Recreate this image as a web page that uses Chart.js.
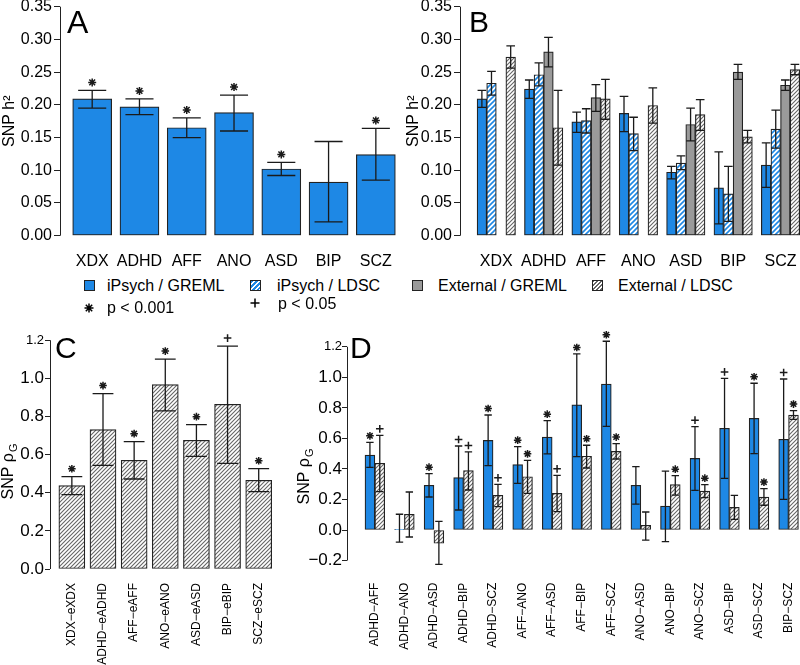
<!DOCTYPE html>
<html><head><meta charset="utf-8">
<script src="https://cdn.jsdelivr.net/npm/chart.js@4.4.1/dist/chart.umd.min.js"></script>
<style>
html,body{margin:0;padding:0;background:#fff;overflow:hidden;width:800px;height:665px;}
body{position:relative;font-family:"Liberation Sans",Arial,Helvetica,sans-serif;color:#000;}
canvas{position:absolute;}
.plbl{position:absolute;font-size:30px;line-height:1;}
.lg{position:absolute;font-size:16px;line-height:1;white-space:nowrap;}
.sw{position:absolute;width:11px;height:11px;border:1px solid #222;box-sizing:border-box;}
.mk{position:absolute;}
</style></head><body>
<canvas id="cA" width="400" height="275" style="left:0;top:0"></canvas>
<canvas id="cB" width="400" height="275" style="left:400px;top:0"></canvas>
<canvas id="cC" width="290" height="335" style="left:0;top:330px"></canvas>
<canvas id="cD" width="510" height="335" style="left:290px;top:330px"></canvas>

<div class="plbl" style="left:67px;top:6px;font-size:32px">A</div>
<div class="plbl" style="left:469px;top:7px">B</div>
<div class="plbl" style="left:55px;top:333px">C</div>
<div class="plbl" style="left:350px;top:333px">D</div>

<div class="sw" style="left:84px;top:280px;background:#1e88e5"></div>
<div class="lg" style="left:107px;top:278px">iPsych / GREML</div>
<div class="sw" style="left:250px;top:280px;background:repeating-linear-gradient(135deg,#1e88e5 0 1.5px,#fff 1.5px 3.5px)"></div>
<div class="lg" style="left:277px;top:278px">iPsych / LDSC</div>
<div class="sw" style="left:412px;top:280px;background:#9a9a9a"></div>
<div class="lg" style="left:438px;top:278px">External / GREML</div>
<div class="sw" style="left:592px;top:280px;background:repeating-linear-gradient(135deg,#666 0 1px,#fff 1px 2.8px)"></div>
<div class="lg" style="left:618px;top:278px">External / LDSC</div>

<svg class="mk" style="left:83px;top:302px" width="12" height="12" viewBox="0 0 12 12"><path d="M6 1.5V10.5M1.5 6H10.5M2.8 2.8L9.2 9.2M9.2 2.8L2.8 9.2" stroke="#000" stroke-width="1.5" fill="none"/></svg>
<div class="lg" style="left:107px;top:300px">p &lt; 0.001</div>
<svg class="mk" style="left:249px;top:297px" width="12" height="12" viewBox="0 0 12 12"><path d="M6 1.5V10.5M1.5 6H10.5" stroke="#000" stroke-width="1.5" fill="none"/></svg>
<div class="lg" style="left:278px;top:296px">p &lt; 0.05</div>

<script>
// ---------------- DATA ----------------
const catsA = ['XDX','ADHD','AFF','ANO','ASD','BIP','SCZ'];
const h2A   = [0.209,0.197,0.165,0.188,0.102,0.082,0.124];
const loA   = [0.195,0.185,0.150,0.160,0.092,0.021,0.085];
const hiA   = [0.222,0.209,0.180,0.215,0.112,0.144,0.164];
const sigA  = ['*','*','*','*','*','','*'];
const yTicksAB = [0,0.05,0.10,0.15,0.20,0.25,0.30,0.35];

const catsB = ['XDX','ADHD','AFF','ANO','ASD','BIP','SCZ'];
const seriesB = ['iPsych / GREML','iPsych / LDSC','External / GREML','External / LDSC'];
const ipGremlB = [0.209,0.224,0.174,0.187,0.097,0.073,0.108];
const ipGremlLoB = [0.196,0.210,0.158,0.159,0.087,0.018,0.074];
const ipGremlHiB = [0.222,0.238,0.189,0.213,0.106,0.128,0.142];
const ipLdscB = [0.233,0.246,0.176,0.156,0.111,0.064,0.163];
const ipLdscLoB = [0.215,0.229,0.157,0.130,0.101,0.022,0.134];
const ipLdscHiB = [0.251,0.264,0.194,0.181,0.122,0.106,0.192];
const exGremlB = [null,0.281,0.211,null,0.170,0.250,0.230];
const exGremlLoB = [null,0.258,0.190,null,0.145,0.239,0.222];
const exGremlHiB = [null,0.303,0.231,null,0.195,0.262,0.238];
const exLdscB = [0.273,0.165,0.209,0.199,0.185,0.151,0.254];
const exLdscLoB = [0.256,0.108,0.178,0.172,0.161,0.142,0.246];
const exLdscHiB = [0.290,0.222,0.239,0.226,0.208,0.161,0.262];

const catsC = ['XDX\u2212eXDX','ADHD\u2212eADHD','AFF\u2212eAFF','ANO\u2212eANO','ASD\u2212eASD','BIP\u2212eBIP','SCZ\u2212eSCZ'];
const rgC   = [0.437,0.731,0.570,0.967,0.675,0.864,0.465];
const loC   = [0.390,0.544,0.472,0.829,0.591,0.554,0.406];
const hiC   = [0.484,0.920,0.668,1.101,0.757,1.169,0.526];
const sigC  = ['*','*','*','*','*','+','*'];
const yTicksC = [0,0.2,0.4,0.6,0.8,1.0,1.2];

const catsD = ['ADHD\u2212AFF','ADHD\u2212ANO','ADHD\u2212ASD','ADHD\u2212BIP','ADHD\u2212SCZ','AFF\u2212ANO','AFF\u2212ASD','AFF\u2212BIP','AFF\u2212SCZ','ANO\u2212ASD','ANO\u2212BIP','ANO\u2212SCZ','ASD\u2212BIP','ASD\u2212SCZ','BIP\u2212SCZ'];
const ipD   = [0.491,0.005,0.293,0.343,0.587,0.428,0.609,0.819,0.956,0.293,0.157,0.469,0.666,0.731,0.594];
const ipLoD = [0.410,-0.079,0.216,0.131,0.421,0.306,0.498,0.480,0.679,0.170,-0.076,0.260,0.338,0.500,0.201];
const ipHiD = [0.574,0.103,0.369,0.550,0.753,0.546,0.716,1.153,1.236,0.415,0.386,0.677,0.993,0.961,0.989];
const ipSigD = ['*','','*','+','*','*','*','*','*','','','+','+','*','+'];
const exD   = [0.437,0.103,-0.087,0.389,0.227,0.349,0.240,0.483,0.515,0.031,0.297,0.255,0.148,0.216,0.753];
const exLoD = [0.251,-0.046,-0.225,0.262,0.153,0.240,0.120,0.406,0.465,-0.066,0.229,0.212,0.070,0.162,0.725];
const exHiD = [0.620,0.249,0.057,0.511,0.299,0.456,0.358,0.555,0.566,0.118,0.356,0.297,0.227,0.271,0.782];
const exSigD = ['+','','','+','+','*','+','*','*','','*','*','','*','*'];
const yTicksD = [-0.2,-0.1,0,0.1,0.2,0.3,0.4,0.5,0.6,0.7,0.8,0.9,1.0,1.1,1.2];

// ---------------- STYLE ----------------
const FONT = '"Liberation Sans", Arial, Helvetica, sans-serif';
const BLUE = '#1e88e5', GREY = '#9a9a9a', EDGE = '#222';
function hatch(color, size, lw) {
  const c = document.createElement('canvas'); c.width = c.height = size;
  const g = c.getContext('2d'); g.fillStyle = '#fff'; g.fillRect(0,0,size,size);
  g.strokeStyle = color; g.lineWidth = lw; g.beginPath();
  g.moveTo(-1,size+1); g.lineTo(size+1,-1);
  g.moveTo(-size/2-1, size/2+1); g.lineTo(size/2+1, -size/2-1);
  g.moveTo(size/2-1, size*1.5+1); g.lineTo(size*1.5+1, size/2-1);
  g.stroke();
  return g.createPattern(c,'repeat');
}
const BLUE_H = hatch(BLUE, 5, 1.6);
const GREY_H = hatch('#666', 4, 1.1);

function pts(arr){ return arr.map((v,i)=>({x:i,y:v})); }

function drawMark(ctx, m, x, y, r) {
  ctx.beginPath();
  ctx.moveTo(x, y-r); ctx.lineTo(x, y+r);
  ctx.moveTo(x-r, y); ctx.lineTo(x+r, y);
  if (m === '*') { const d = r*0.72; ctx.moveTo(x-d,y-d); ctx.lineTo(x+d,y+d); ctx.moveTo(x+d,y-d); ctx.lineTo(x-d,y+d); }
  ctx.stroke();
}

const errPlugin = {
  id:'errbars',
  afterDatasetsDraw(chart, args, o) {
    const ctx = chart.ctx, ys = chart.scales.y;
    ctx.save(); ctx.strokeStyle = '#1a1a1a';
    chart.data.datasets.forEach((ds, di) => {
      const meta = chart.getDatasetMeta(di);
      meta.data.forEach((bar, i) => {
        if (ds.data[i].y == null || ds.errLo[i] == null) return;
        const x = bar.x, w = bar.width * o.cap / 2;
        const yl = ys.getPixelForValue(ds.errLo[i]), yh = ys.getPixelForValue(ds.errHi[i]);
        ctx.lineWidth = 1.3;
        ctx.beginPath();
        ctx.moveTo(x, yl); ctx.lineTo(x, yh);
        ctx.moveTo(x-w, yl); ctx.lineTo(x+w, yl);
        ctx.moveTo(x-w, yh); ctx.lineTo(x+w, yh);
        ctx.stroke();
        if (ds.sig && ds.sig[i]) { ctx.lineWidth = 1.5; drawMark(ctx, ds.sig[i], x, yh - o.gap, o.size); }
      });
    });
    ctx.restore();
  }
};
const axisPlugin = {
  id:'axisline',
  afterDraw(chart) {
    const ys = chart.scales.y, t = ys.ticks, ctx = chart.ctx;
    const x = Math.round(ys.right - 0.5) + 0.5;
    ctx.save(); ctx.strokeStyle = EDGE; ctx.lineWidth = 1; ctx.beginPath();
    ctx.moveTo(x, ys.getPixelForValue(t[0].value)); ctx.lineTo(x, ys.getPixelForValue(t[t.length-1].value));
    ctx.stroke(); ctx.restore();
  }
};
const titlePlugin = {
  id:'ytitle',
  afterDraw(chart, args, o) {
    if (!o || !o.text) return;
    const ctx = chart.ctx; ctx.save();
    ctx.translate(o.x, o.y); ctx.rotate(-Math.PI/2);
    ctx.fillStyle = '#000'; ctx.textBaseline = 'middle'; ctx.textAlign = 'left';
    ctx.font = '16px ' + FONT; const w1 = ctx.measureText(o.text).width;
    ctx.font = '11px ' + FONT; const w2 = ctx.measureText(o.sub).width;
    const s = -(w1 + w2) / 2;
    ctx.font = '16px ' + FONT; ctx.fillText(o.text, s, 0);
    ctx.font = '11px ' + FONT; ctx.fillText(o.sub, s + w1 + 1, 5);
    ctx.restore();
  }
};

function build(id, c) {
  return new Chart(document.getElementById(id), {
    type:'bar',
    data:{ datasets:c.datasets },
    options:{
      responsive:false, animation:false, devicePixelRatio:1,
      layout:{ padding:{ left:0, top:c.T, right:c.W - c.R, bottom:0 } },
      datasets:{ bar:{ barThickness:c.bw, borderSkipped:false, borderWidth:1.2, borderColor:EDGE } },
      plugins:{ legend:{display:false}, tooltip:{enabled:false},
        errbars:{ cap:c.cap, gap:c.gap, size:c.msize }, ytitle:c.ytitle || {} },
      scales:{
        x:{ type:'linear', min:c.xmin, max:c.xmax, offset:false,
          grid:{display:false}, border:{display:false},
          afterBuildTicks:s => { s.ticks = c.cats.map((_,i)=>({value:i})); },
          ticks:{ autoSkip:false, maxRotation:c.xrot, minRotation:c.xrot, padding:c.xpad, color:'#000',
                  font:{family:FONT, size:c.xfont}, callback:v => c.cats[v] },
          afterFit:s => { s.height = c.H - c.B; s.paddingLeft = 0; s.paddingRight = 0; } },
        y:{ min:c.ymin, max:c.ymax,
          grid:{ drawOnChartArea:false, drawTicks:true, tickLength:c.tl, color:EDGE, lineWidth:1 },
          border:{display:false},
          afterBuildTicks:s => { s.ticks = c.yticks.map(v=>({value:v})); },
          ticks:{ padding:c.tp, color:'#000', font:c.yfont, callback:c.yfmt },
          title: c.title || {display:false},
          afterFit:s => { s.width = c.L; s.paddingTop = 0; s.paddingBottom = 0; } }
      }
    },
    plugins:[errPlugin, axisPlugin, titlePlugin]
  });
}

// Panel A
build('cA', { W:400, H:275, L:60, T:6.7, R:400, B:235.7, xmin:-0.681, xmax:6.511, ymin:0, ymax:0.35,
  cats:catsA, xfont:16, xrot:0, xpad:8, yticks:yTicksAB, yfmt:v => v.toFixed(2), yfont:{family:FONT,size:16},
  tl:6, tp:2, bw:39, cap:0.72, gap:8, msize:4,
  title:{display:true, text:'SNP h\u00b2', color:'#000', font:{family:FONT,size:16}, padding:{top:0,bottom:0}},
  datasets:[{ label:'iPsych / GREML', data:pts(h2A), errLo:loA, errHi:hiA, sig:sigA, backgroundColor:BLUE }] });

// Panel B
build('cB', { W:400, H:275, L:60, T:6.7, R:400, B:235.7, xmin:-0.766, xmax:6.411, ymin:0, ymax:0.35,
  cats:catsB, xfont:16, xrot:0, xpad:8, yticks:yTicksAB, yfmt:v => v.toFixed(2), yfont:{family:FONT,size:16},
  tl:6, tp:2, bw:9.6, cap:0.9, gap:8, msize:4,
  title:{display:true, text:'SNP h\u00b2', color:'#000', font:{family:FONT,size:16}, padding:{top:4,bottom:0}},
  datasets:[
    { label:seriesB[0], data:pts(ipGremlB), errLo:ipGremlLoB, errHi:ipGremlHiB, backgroundColor:BLUE },
    { label:seriesB[1], data:pts(ipLdscB), errLo:ipLdscLoB, errHi:ipLdscHiB, backgroundColor:BLUE_H },
    { label:seriesB[2], data:pts(exGremlB), errLo:exGremlLoB, errHi:exGremlHiB, backgroundColor:GREY },
    { label:seriesB[3], data:pts(exLdscB), errLo:exLdscLoB, errHi:exLdscHiB, backgroundColor:GREY_H } ] });

// Panel C
build('cC', { W:290, H:335, L:50, T:10.2, R:281, B:239, xmin:-0.702, xmax:6.716, ymin:0, ymax:1.2,
  cats:catsC, xfont:12, xrot:90, xpad:6, yticks:yTicksC, yfmt:v => v.toFixed(1),
  yfont:ctx => ({family:FONT, size:(ctx.tick && ctx.tick.value === 1.2) ? 13 : 17}),
  tl:5, tp:1, bw:26, cap:0.8, gap:8, msize:3.8,
  ytitle:{text:'SNP \u03c1', sub:'G', x:9, y:142},
  datasets:[{ label:'External / LDSC', data:pts(rgC), errLo:loC, errHi:hiC, sig:sigC, backgroundColor:GREY_H }] });

// Panel D
build('cD', { W:510, H:335, L:57, T:1.5, R:510, B:239.7, xmin:-0.9425, xmax:14.387, ymin:-0.26, ymax:1.3,
  cats:catsD, xfont:12, xrot:90, xpad:5,
  yticks:yTicksD, yfmt:v => (Math.round(v*10) % 2 === 0 ? v.toFixed(1).replace('-','\u2212') : ''),
  yfont:ctx => ({family:FONT, size:(ctx.tick && Math.abs(ctx.tick.value - 1.2) < 1e-9) ? 13 : 17}),
  tl:5, tp:0, bw:9.85, cap:0.75, gap:6.5, msize:3.8,
  ytitle:{text:'SNP \u03c1', sub:'G', x:15, y:147},
  datasets:[
    { label:'iPsych / LDSC', data:pts(ipD), errLo:ipLoD, errHi:ipHiD, sig:ipSigD, backgroundColor:BLUE },
    { label:'External / LDSC', data:pts(exD), errLo:exLoD, errHi:exHiD, sig:exSigD, backgroundColor:GREY_H } ] });
</script>
</body></html>
